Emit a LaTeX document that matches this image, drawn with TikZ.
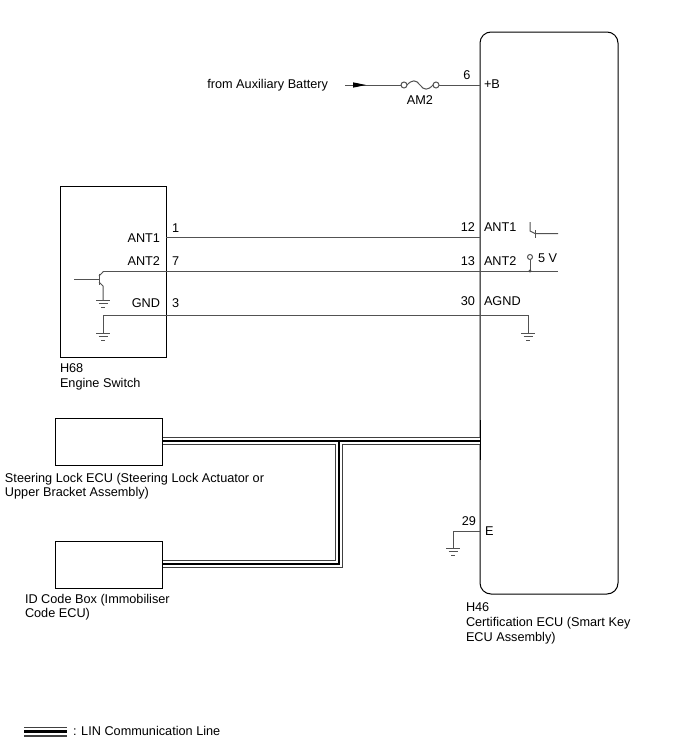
\documentclass[tikz,border=0pt]{standalone}
\usepackage{fontspec}
\setmainfont{Liberation Sans}
\begin{document}
\begin{tikzpicture}[x=1pt,y=-1pt,
  font=\fontsize{12.7}{14}\selectfont,
  wire/.style={draw=black!68, line width=1pt},
  box/.style={draw=black, line width=1pt, inner sep=0pt, outer sep=0pt},
  lbl/.style={inner sep=0pt, outer sep=0pt, text=black},
  linouter/.style={draw=black!75, line width=7.6pt, line join=miter},
  linwhite/.style={draw=white, line width=5.4pt, line join=miter},
  lininner/.style={draw=black, line width=2.2pt, line join=miter},
  gnd/.pic={\draw[wire] (-7,0)--(7,0) (-4.5,3.5)--(4.5,3.5) (-2,7)--(2,7);}
]
\useasboundingbox (0,0) rectangle (688,755);

% ---------- boxes ----------
\node[box, rounded corners=11pt, minimum width=138pt, minimum height=562pt, anchor=north west] (ecu) at (480,32) {};
\node[box, minimum width=106pt, minimum height=171pt, anchor=north west] (esw) at (60,186) {};
\node[box, minimum width=107pt, minimum height=47pt, anchor=north west] (slk) at (55,418) {};
\node[box, minimum width=107pt, minimum height=47pt, anchor=north west] (idc) at (55,541) {};

% ---------- +B supply ----------
\coordinate (bat) at (345,85);
\coordinate (fuseL) at (404,85);
\coordinate (fuseR) at (436,85);
\coordinate (pB) at (480,85);
\draw[wire] (bat) -- ([xshift=-3pt]fuseL);
\fill[black] (353,82.3) -- (366,85) -- (353,87.7) -- cycle;
\draw[wire, fill=white] (fuseL) circle (3);
\draw[wire, fill=white] (fuseR) circle (3);
\draw[wire] ([xshift=3pt]fuseL) .. controls (412,79.5) and (416,79.5) .. (420,85)
            .. controls (424,90.5) and (428,90.5) .. ([xshift=-3pt]fuseR);
\draw[wire] ([xshift=3pt]fuseR) -- (pB);
\node[lbl, anchor=base east] (tbat) at (328,88.5) {from Auxiliary Battery};
\node[lbl, anchor=base] (tam2) at (420,104.5) {AM2};
\node[lbl, anchor=base] (t6) at (467,79.5) {6};
\node[lbl, anchor=base west] (tB) at (484,88.5) {+B};

% ---------- ANT1 ----------
\coordinate (e1) at (166,237);
\coordinate (c12) at (480,237);
\draw[wire] (e1) -- (c12);
\draw[wire] (530,222) -- (530,231) -- (535,233.5) -- (558,233.5);
\draw[wire] (535,230) -- (535,237.5);

% ---------- ANT2 ----------
\coordinate (e7) at (103,271);
\coordinate (c13) at (558,271);
\draw[wire] (e7) -- (c13);
\draw[wire] (530,259.5) -- (530,271);
\draw[wire, fill=white] (530,257) circle (2.5);
\fill[black!70] (530,271) circle (1.7);
% engine switch transistor
\draw[wire] (99,273.5) -- (99,284.5);
\draw[wire] (74,279) -- (99,279);
\draw[wire] (99,276) -- (103,272) -- (e7);
\draw[wire] (99,282) -- (103,286) -- (103,300);
\pic at (103,300) {gnd};

% ---------- GND / AGND ----------
\coordinate (e3) at (103,315);
\coordinate (c30) at (528,315);
\draw[wire] (103,333) -- (e3) -- (c30) -- (528,333);
\pic at (103,333) {gnd};
\pic at (528,333) {gnd};

% ---------- E ground ----------
\coordinate (c29) at (480,531.5);
\draw[wire] (c29) -- (453,531.5) -- (453,548);
\pic at (453,548) {gnd};

% ---------- pin labels ----------
\node[lbl, anchor=base east] (lant1) at (160,242) {ANT1};
\node[lbl, anchor=base west] (p1) at (172,232) {1};
\node[lbl, anchor=base east] (lant2) at (160,265.5) {ANT2};
\node[lbl, anchor=base west] (p7) at (172,265.5) {7};
\node[lbl, anchor=base east] (lgnd) at (160,307.5) {GND};
\node[lbl, anchor=base west] (p3) at (172,307.5) {3};

\node[lbl, anchor=base east] (p12) at (475,231) {12};
\node[lbl, anchor=base west] (rant1) at (484,231) {ANT1};
\node[lbl, anchor=base east] (p13) at (475,265) {13};
\node[lbl, anchor=base west] (rant2) at (484,265) {ANT2};
\node[lbl, anchor=base west] (t5v) at (538,262) {5 V};
\node[lbl, anchor=base east] (p30) at (475,305) {30};
\node[lbl, anchor=base west] (ragnd) at (484,305) {AGND};
\node[lbl, anchor=base east] (p29) at (476,525) {29};
\node[lbl, anchor=base west] (rE) at (485,535) {E};

% ---------- component names ----------
\node[lbl, anchor=base west] (h68) at (60,372.5) {H68};
\node[lbl, anchor=base west] (h68n) at (60,387.5) {Engine Switch};
\node[lbl, anchor=base west] (slkn1) at (5,482.5) {Steering Lock ECU (Steering Lock Actuator or};
\node[lbl, anchor=base west] (slkn2) at (5,496.5) {Upper Bracket Assembly)};
\node[lbl, anchor=base west] (idcn1) at (25,603.5) {ID Code Box (Immobiliser};
\node[lbl, anchor=base west] (idcn2) at (25,617.5) {Code ECU)};
\node[lbl, anchor=base west] (h46) at (466,611.5) {H46};
\node[lbl, anchor=base west] (h46n1) at (466,626.5) {Certification ECU (Smart Key};
\node[lbl, anchor=base west] (h46n2) at (466,641.5) {ECU Assembly)};

% ---------- LIN lines ----------
\coordinate (slkR) at (162,441);
\coordinate (ecuL) at (480,441);
\coordinate (idcR) at (162,564);
\coordinate (jc) at (339,564);
\coordinate (jt) at (339,441);
\foreach \st in {linouter,linwhite,lininner}{
  \draw[\st] (slkR) -- (ecuL);
  \draw[\st] (idcR) -- (jc) -- (jt);
}
% redraw box edges over LIN ends
\draw[box] (slk.north east) -- (slk.south east);
\draw[box] (idc.north east) -- (idc.south east);
\draw[box] (480,420) -- (480,460);

% ---------- legend ----------
\coordinate (lg1) at (24,731.5);
\coordinate (lg2) at (67,731.5);
\draw[draw=black!75, line width=10pt] (lg1) -- (lg2);
\draw[draw=white, line width=7.6pt] (lg1) -- (lg2);
\draw[draw=black, line width=2.4pt] (lg1) -- (lg2);
\node[lbl, anchor=base west] (lgt) at (73,735.5) {: LIN Communication Line};
\end{tikzpicture}
\end{document}
